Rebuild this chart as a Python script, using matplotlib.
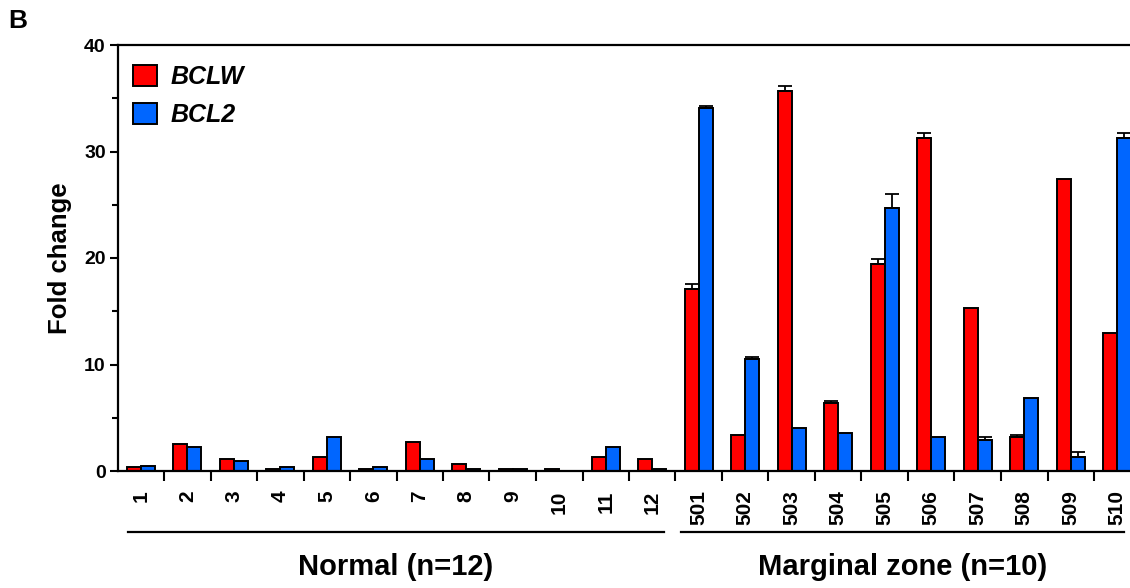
import matplotlib
matplotlib.use("Agg")
import matplotlib.pyplot as plt
from matplotlib.lines import Line2D
from matplotlib.ticker import FixedLocator, MultipleLocator
import matplotlib.transforms as mtransforms
import numpy as np

plt.rcParams['font.family'] = ['Liberation Sans', 'DejaVu Sans']
plt.rcParams['font.weight'] = 'bold'

samples = ['1', '2', '3', '4', '5', '6', '7', '8', '9', '10', '11', '12',
           '501', '502', '503', '504', '505', '506', '507', '508', '509', '510']
bclw = [0.4, 2.5, 1.1, 0.2, 1.35, 0.2, 2.7, 0.7, 0.2, 0.2, 1.35, 1.1,
        17.1, 3.4, 35.7, 6.4, 19.4, 31.3, 15.3, 3.16, 27.4, 13.0]
bcl2 = [0.45, 2.3, 0.9, 0.4, 3.2, 0.4, 1.1, 0.2, 0.2, 0.03, 2.25, 0.2,
        34.1, 10.5, 4.07, 3.6, 24.7, 3.16, 2.94, 6.83, 1.35, 31.3]
bclw_err = [0, 0, 0, 0, 0, 0, 0, 0, 0, 0, 0, 0,
            0.5, 0, 0.45, 0.2, 0.5, 0.45, 0, 0.22, 0, 0]
bcl2_err = [0, 0, 0, 0, 0, 0, 0, 0, 0, 0, 0, 0,
            0.2, 0.2, 0, 0, 1.35, 0, 0.22, 0, 0.43, 0.45]
groups = ['Normal (n=12)', 'Marginal zone (n=10)']
group_sizes = [12, 10]
series_names = ['BCLW', 'BCL2']
colors = ['#ff0000', '#0066ff']

fig = plt.figure(figsize=(11.3, 5.88), dpi=100)
W, H = 1130, 588
ax = fig.add_axes([117.5 / W, 1 - 471 / H, (1140.5 - 117.5) / W, (471 - 45) / H])

x = np.arange(len(samples))
bw = 0.3
b1 = ax.bar(x - bw / 2, bclw, width=bw, color=colors[0], edgecolor='black', linewidth=1.4, zorder=2)
b2 = ax.bar(x + bw / 2, bcl2, width=bw, color=colors[1], edgecolor='black', linewidth=1.4, zorder=2)

for xs, vals, errs in [(x - bw / 2, bclw, bclw_err), (x + bw / 2, bcl2, bcl2_err)]:
    idx = [i for i, e in enumerate(errs) if e > 0]
    ax.errorbar(xs[idx], np.array(vals)[idx],
                yerr=[np.zeros(len(idx)), np.array(errs)[idx]],
                fmt='none', ecolor='black', elinewidth=1.3, capsize=5, capthick=1.3, zorder=3)

ax.set_xlim(-0.5, len(samples) - 0.5)
ax.set_ylim(0, 40)
ax.yaxis.set_major_locator(MultipleLocator(10))
ax.yaxis.set_minor_locator(MultipleLocator(5))
ax.set_xticks(x)
ax.set_xticklabels(samples, rotation=90, fontsize=15, fontweight='bold')
ax.xaxis.set_minor_locator(FixedLocator(np.arange(len(samples)) + 0.5))
ax.tick_params(axis='x', which='major', length=0, pad=14)
ax.tick_params(axis='x', which='minor', length=7.5, width=1.5, direction='out')
ax.tick_params(axis='y', which='major', length=5.5, width=1.5, labelsize=14, pad=3)
ax.tick_params(axis='y', which='minor', length=4, width=1.5)
for lab in ax.get_yticklabels():
    lab.set_fontweight('bold')

for s in ['left', 'bottom', 'top', 'right']:
    ax.spines[s].set_linewidth(1.6)

ax.set_ylabel('Fold change', fontsize=18.5, fontweight='bold', labelpad=9)

leg = ax.legend([b1, b2], series_names, loc='upper left', bbox_to_anchor=(0.015, 0.952),
                frameon=False, handlelength=0.95, handleheight=0.9, handletextpad=0.55,
                labelspacing=0.55, borderaxespad=0, borderpad=0,
                prop={'size': 18, 'weight': 'bold', 'style': 'italic'})

# group lines and labels
trans = mtransforms.blended_transform_factory(ax.transData, fig.transFigure)
starts = [-0.5, -0.5 + group_sizes[0]]
pads = [(0.23, 0.25), (0.12, 0.35)]
for g, start, n, (pl, pr) in zip(groups, starts, group_sizes, pads):
    x0, x1 = start + pl, start + n - pr
    fig.add_artist(Line2D([x0, x1], [1 - 532 / H, 1 - 532 / H], transform=trans,
                          color='black', linewidth=1.6))
    fig.text((x0 + x1) / 2, 1 - 567 / H, g, transform=trans, ha='center', va='center',
             fontsize=21, fontweight='bold')

fig.text(8 / W, 1 - 21 / H, 'B', ha='left', va='center', fontsize=19, fontweight='bold')

fig.savefig('out.png', dpi=100)
